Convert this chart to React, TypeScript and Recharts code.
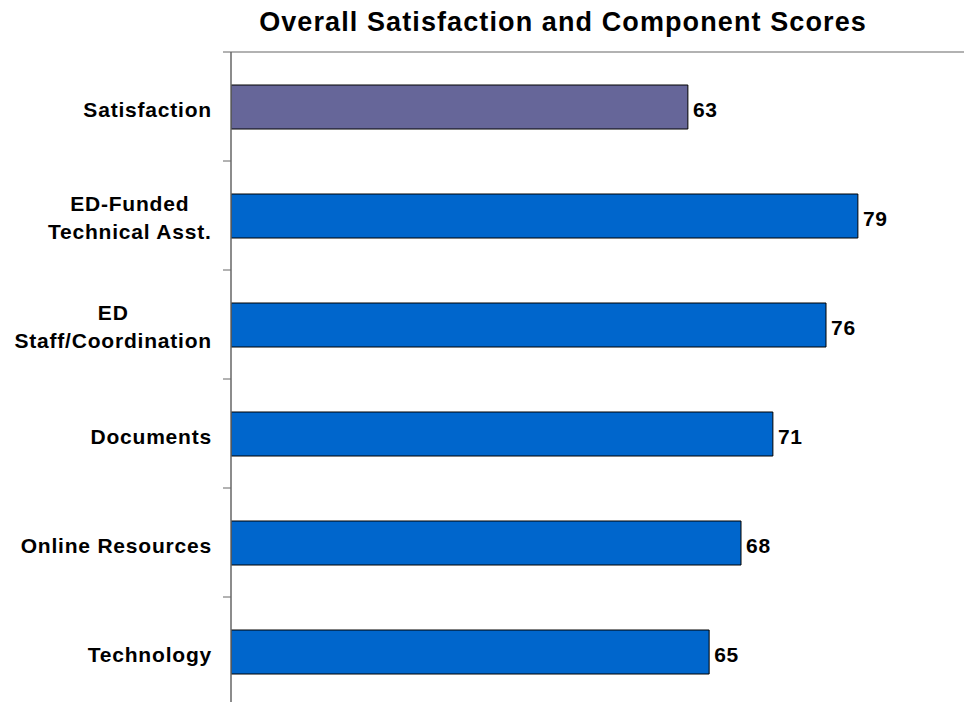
import React from 'react';
import {
  BarChart,
  Bar,
  XAxis,
  YAxis,
  Cell,
  LabelList,
  CartesianGrid,
} from 'recharts';

const categories = [
  'Satisfaction',
  'ED-Funded\nTechnical Asst.',
  'ED\nStaff/Coordination',
  'Documents',
  'Online Resources',
  'Technology',
];
const scores = [63, 79, 76, 71, 68, 65];
const barColors = ['#666699', '#0066CC', '#0066CC', '#0066CC', '#0066CC', '#0066CC'];

const data = categories.map((name, i) => ({ name, score: scores[i] }));

const FONT = '"Liberation Sans", Arial, Helvetica, sans-serif';
const LABEL_SIZE = 21;
const LABEL_SPACING = 0.8;
const TICK_GAP = 19;
const TICK_LEN = 8;
const AXIS_COLOR = '#666';

let measureCtx: CanvasRenderingContext2D | null = null;
const measure = (s: string) => {
  if (!measureCtx) {
    measureCtx = document.createElement('canvas').getContext('2d');
  }
  if (!measureCtx) return s.length * 12;
  measureCtx.font = `bold ${LABEL_SIZE}px ${FONT}`;
  (measureCtx as any).letterSpacing = `${LABEL_SPACING}px`;
  return measureCtx.measureText(s).width;
};

// label text, plus the little tick marks that sit between the categories
const CategoryTick = (props: any) => {
  const { x, y, payload } = props;
  const half = payload.offset || 0;
  const axisX = x + TICK_GAP;
  const lines = String(payload.value).split('\n');
  const maxW = Math.max(...lines.map(measure));
  const cx = x - maxW / 2;
  const lineHeight = 28;
  const startY = y - ((lines.length - 1) * lineHeight) / 2 + (lines.length > 1 ? 2 : 3);
  return (
    <g>
      {payload.index === 0 && (
        <line x1={axisX - TICK_LEN} x2={axisX} y1={y - half} y2={y - half} stroke={AXIS_COLOR} />
      )}
      <line x1={axisX - TICK_LEN} x2={axisX} y1={y + half} y2={y + half} stroke={AXIS_COLOR} />
      <text
        textAnchor="middle"
        fill="#000"
        fontFamily={FONT}
        fontWeight="bold"
        fontSize={LABEL_SIZE}
        letterSpacing={LABEL_SPACING}
      >
        {lines.map((line, i) => (
          <tspan key={i} x={cx} y={startY + i * lineHeight} dy="0.35em">
            {line}
          </tspan>
        ))}
      </text>
    </g>
  );
};

export default function App() {
  return (
    <div
      style={{
        position: 'absolute',
        left: 0,
        top: 0,
        width: 964,
        height: 702,
        overflow: 'hidden',
        background: '#fff',
      }}
    >
      <div
        style={{
          position: 'absolute',
          top: 9,
          left: 563,
          transform: 'translateX(-50%)',
          whiteSpace: 'nowrap',
          fontFamily: FONT,
          fontWeight: 'bold',
          fontSize: 27,
          letterSpacing: 1.1,
          lineHeight: '27px',
          color: '#000',
        }}
      >
        Overall Satisfaction and Component Scores
      </div>
      <BarChart
        width={1100}
        height={720}
        data={data}
        layout="vertical"
        margin={{ top: 52, right: 19, bottom: 14, left: 230 }}
      >
        <CartesianGrid
          vertical={false}
          stroke="#999"
          strokeWidth={1.5}
          horizontalCoordinatesGenerator={({ offset }: any) => [offset.top]}
        />
        <XAxis type="number" domain={[20, 100]} hide allowDataOverflow />
        <YAxis
          type="category"
          dataKey="name"
          width={1}
          tickSize={0}
          tickMargin={TICK_GAP}
          axisLine={{ stroke: AXIS_COLOR, strokeWidth: 1.5 }}
          tickLine={false}
          tick={<CategoryTick />}
          interval={0}
        />
        <Bar
          dataKey="score"
          barSize={44}
          stroke="#000"
          strokeWidth={1}
          isAnimationActive={false}
        >
          {data.map((d, i) => (
            <Cell key={d.name} fill={barColors[i]} />
          ))}
          <LabelList
            dataKey="score"
            position="right"
            offset={5}
            fill="#000"
            fontFamily={FONT}
            fontWeight="bold"
            fontSize={LABEL_SIZE}
            letterSpacing={LABEL_SPACING}
            dy={3}
          />
        </Bar>
      </BarChart>
    </div>
  );
}
